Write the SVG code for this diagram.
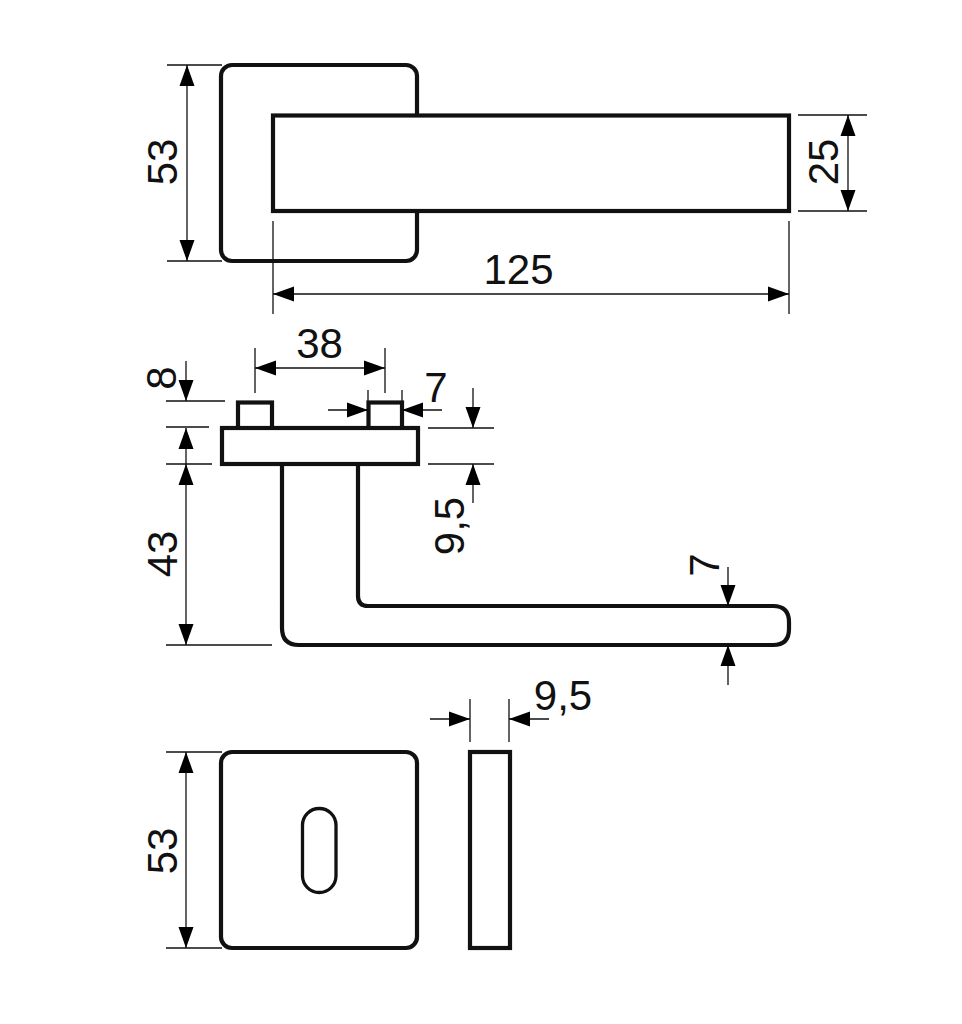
<svg xmlns="http://www.w3.org/2000/svg" width="962" height="1024" viewBox="0 0 962 1024">
<style>
.o{fill:none;stroke:#111;stroke-width:4.2}
.f{fill:#fff;stroke:#111;stroke-width:4.2}
.k{fill:none;stroke:#111;stroke-width:3.300}
.d{fill:none;stroke:#111;stroke-width:1.300}
.a{fill:#000;stroke:none}
text{font-family:"Liberation Sans",Arial,sans-serif;font-size:42px;fill:#111}
</style>
<defs>
<polygon id="ah" class="a" points="0,0 -21,-7.500 -21,7.500"/>
</defs>
<rect width="962" height="1024" fill="#fff"/>
<g id="rosette-top"><rect class="o" x="221" y="65" width="196" height="196" rx="11"/></g>
<g id="lever-top"><rect class="f" x="273" y="115.500" width="516" height="95.500"/></g>
<g id="pin-left"><rect class="o" x="238" y="402.500" width="34" height="26"/></g>
<g id="pin-right"><rect class="o" x="368.500" y="402.500" width="33.500" height="26"/></g>
<g id="plate-side"><rect class="f" x="222" y="428" width="196" height="36"/></g>
<g id="lever-side"><path class="o" d="M282 464V628Q282 645 299 645H773Q789 645 789 629V622Q789 606 773 606H368Q358 606 358 596V464"/></g>
<g id="rosette-bottom"><rect class="o" x="221" y="752" width="196" height="196" rx="11"/><rect class="k" x="302.500" y="808.500" width="33.500" height="84" rx="16.750"/></g>
<g id="rosette-bottom-side"><rect class="o" x="470" y="752" width="40" height="196"/></g>
<g id="connectors">
<path class="d" d="M167 65H222M167 261H222M187 65V261"/>
<use href="#ah" transform="translate(187 65) rotate(-90)"/><use href="#ah" transform="translate(187 261) rotate(90)"/>
<path class="d" d="M798 115H867M798 211H867M848 115V211"/>
<use href="#ah" transform="translate(848 115) rotate(-90)"/><use href="#ah" transform="translate(848 211) rotate(90)"/>
<path class="d" d="M273 221V314M789 221V314M273 294H789"/>
<use href="#ah" transform="translate(273 294) rotate(180)"/><use href="#ah" transform="translate(789 294)"/>
<path class="d" d="M255 348V393M385 348V393M255 368H385"/>
<use href="#ah" transform="translate(255 368) rotate(180)"/><use href="#ah" transform="translate(385 368)"/>
<path class="d" d="M368 390V402M402 390V402M328 410H368M442 410H402"/>
<use href="#ah" transform="translate(368 410)"/><use href="#ah" transform="translate(402 410) rotate(180)"/>
<path class="d" d="M166 401H225M166 427H209M166 464H212M166 645H272M186 361V401M186 428V645"/>
<use href="#ah" transform="translate(186 401) rotate(90)"/><use href="#ah" transform="translate(186 428) rotate(-90)"/><use href="#ah" transform="translate(186 464) rotate(-90)"/><use href="#ah" transform="translate(186 645) rotate(90)"/>
<path class="d" d="M428 428H494M428 464H494M473 388V428M473 464V503"/>
<use href="#ah" transform="translate(473 428) rotate(90)"/><use href="#ah" transform="translate(473 464) rotate(-90)"/>
<path class="d" d="M728 567V606M728 645V685"/>
<use href="#ah" transform="translate(728 606) rotate(90)"/><use href="#ah" transform="translate(728 645) rotate(-90)"/>
<path class="d" d="M470 699V742M509 699V742M430 719H470M549 719H509"/>
<use href="#ah" transform="translate(470 719)"/><use href="#ah" transform="translate(509 719) rotate(180)"/>
<path class="d" d="M166 752H222M166 948H222M186 752V948"/>
<use href="#ah" transform="translate(186 752) rotate(-90)"/><use href="#ah" transform="translate(186 948) rotate(90)"/>
</g>
<g id="labels">
<text transform="translate(176.500 162) rotate(-90)" text-anchor="middle">53</text>
<text transform="translate(837.500 162) rotate(-90)" text-anchor="middle">25</text>
<text x="518.500" y="284" text-anchor="middle">125</text>
<text x="319.500" y="358" text-anchor="middle">38</text>
<text x="436" y="402" text-anchor="middle">7</text>
<text transform="translate(175.500 378) rotate(-90)" text-anchor="middle">8</text>
<text transform="translate(176.500 554) rotate(-90)" text-anchor="middle">43</text>
<text transform="translate(464 526) rotate(-90)" text-anchor="middle">9,5</text>
<text transform="translate(719 565) rotate(-90)" text-anchor="middle">7</text>
<text x="563" y="710" text-anchor="middle">9,5</text>
<text transform="translate(176.500 851) rotate(-90)" text-anchor="middle">53</text>
</g>
</svg>
